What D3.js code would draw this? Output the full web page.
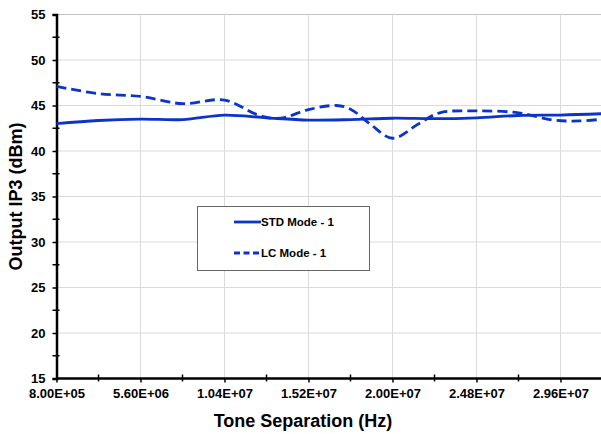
<!DOCTYPE html>
<html>
<head>
<meta charset="utf-8">
<script src="https://cdn.jsdelivr.net/npm/d3@7"></script>
<style>
  body { margin: 0; background: #fff; }
  svg { display: block; font-family: "Liberation Sans", Arial, sans-serif; }
</style>
</head>
<body>
<div id="chart"></div>
<script>
// tick values
const xTicks = [8.0e5, 5.6e6, 1.04e7, 1.52e7, 2.0e7, 2.48e7, 2.96e7];
const yTicks = [15, 20, 25, 30, 35, 40, 45, 50, 55];

// STD Mode - 1 (solid)
const stdX = [8.0e5, 3.2e6, 5.6e6, 8.0e6, 1.04e7, 1.28e7, 1.52e7, 1.76e7, 2.0e7, 2.24e7, 2.48e7, 2.72e7, 2.96e7, 3.2e7];
const stdY = [43.0, 43.35, 43.5, 43.45, 43.95, 43.65, 43.4, 43.45, 43.6, 43.55, 43.65, 43.9, 43.95, 44.1];

// LC Mode - 1 (dashed)
const lcX = [8.0e5, 3.2e6, 5.6e6, 8.0e6, 1.04e7, 1.24e7, 1.36e7, 1.52e7, 1.68e7, 1.76e7, 1.87e7, 2.0e7, 2.15e7, 2.27e7, 2.48e7, 2.72e7, 2.92e7, 3.07e7, 3.2e7];
const lcY = [47.1, 46.3, 46.0, 45.2, 45.6, 43.9, 43.6, 44.55, 45.0, 44.6, 43.0, 41.4, 43.0, 44.2, 44.4, 44.2, 43.4, 43.3, 43.5];

const seriesNames = ["STD Mode - 1", "LC Mode - 1"];

const width = 601, height = 434;
const margin = { top: 14.5, left: 56.5, bottom: 55.5 };
const blue = "#0a35c8";

const svg = d3.select("#chart").append("svg")
  .attr("width", width)
  .attr("height", height);

const x = d3.scaleLinear()
  .domain([8.0e5, 3.2e7])
  .range([margin.left, margin.left + 6.5 * 84]);

const y = d3.scaleLinear()
  .domain([15, 55])
  .range([height - margin.bottom, margin.top]);

// gridlines
svg.append("g")
  .selectAll("line.hg")
  .data(yTicks.slice(1))
  .join("line")
  .attr("x1", margin.left).attr("x2", width)
  .attr("y1", d => y(d)).attr("y2", d => y(d))
  .attr("stroke", d => d === 55 ? "#c4c4c4" : "#dadada")
  .attr("stroke-width", 1);

svg.append("g")
  .selectAll("line.vg")
  .data(xTicks.slice(1))
  .join("line")
  .attr("x1", d => x(d)).attr("x2", d => x(d))
  .attr("y1", margin.top).attr("y2", y(15))
  .attr("stroke", "#dadada")
  .attr("stroke-width", 1);

// y axis
const yAxis = svg.append("g")
  .attr("transform", `translate(${margin.left},0)`)
  .call(d3.axisLeft(y).tickValues(yTicks).tickSize(4).tickPadding(7).tickFormat(d3.format("d")));
yAxis.select(".domain").attr("stroke", "#000").attr("stroke-width", 2.5);
yAxis.selectAll(".tick line").attr("stroke-width", 1.5);
yAxis.selectAll("text")
  .attr("font-size", 13).attr("font-weight", "bold")
  .attr("font-family", "Liberation Sans, Arial, sans-serif").attr("fill", "#000");

// y minor ticks
svg.append("g")
  .selectAll("line")
  .data(yTicks.slice(0, -1).map(d => d + 2.5))
  .join("line")
  .attr("x1", margin.left - 4).attr("x2", margin.left + 3)
  .attr("y1", d => y(d)).attr("y2", d => y(d))
  .attr("stroke", "#000").attr("stroke-width", 1.5);

// x axis
const xAxis = svg.append("g")
  .attr("transform", `translate(0,${y(15)})`)
  .call(d3.axisBottom(x).tickValues(xTicks).tickSize(4).tickPadding(6)
    .tickFormat(d => d.toExponential(2).toUpperCase().replace(/E\+(\d)$/, "E+0$1")));
xAxis.select(".domain").attr("stroke", "#000").attr("stroke-width", 2.5)
  .attr("d", `M${margin.left},0H${width}`);
xAxis.selectAll(".tick line").attr("stroke-width", 1.5);
xAxis.selectAll("text")
  .attr("font-size", 13).attr("font-weight", "bold")
  .attr("font-family", "Liberation Sans, Arial, sans-serif").attr("fill", "#000");

// x minor ticks
svg.append("g")
  .selectAll("line")
  .data(xTicks.map(d => d + 2.4e6))
  .join("line")
  .attr("x1", d => x(d)).attr("x2", d => x(d))
  .attr("y1", y(15) - 4).attr("y2", y(15) + 3)
  .attr("stroke", "#000").attr("stroke-width", 1.5);

// lines
const line = d3.line()
  .x(d => x(d[0]))
  .y(d => y(d[1]))
  .curve(d3.curveCatmullRom.alpha(0.5));

const plot = svg.append("g");

plot.append("path")
  .datum(stdX.map((d, i) => [d, stdY[i]]))
  .attr("d", line)
  .attr("fill", "none")
  .attr("stroke", blue)
  .attr("stroke-width", 2.8);

plot.append("path")
  .datum(lcX.map((d, i) => [d, lcY[i]]))
  .attr("d", line)
  .attr("fill", "none")
  .attr("stroke", blue)
  .attr("stroke-width", 2.8)
  .attr("stroke-dasharray", "10,5");

// legend
const legend = svg.append("g").attr("transform", "translate(197,206)");
legend.append("rect")
  .attr("x", 0.5).attr("y", 0.5)
  .attr("width", 172).attr("height", 64)
  .attr("fill", "#fff")
  .attr("stroke", "#666")
  .attr("stroke-width", 1);

const items = legend.selectAll("g.item")
  .data(seriesNames)
  .join("g")
  .attr("class", "item")
  .attr("transform", (d, i) => `translate(0,${16 + i * 31})`);

items.append("line")
  .attr("x1", 37).attr("x2", 64)
  .attr("y1", 0).attr("y2", 0)
  .attr("stroke", blue)
  .attr("stroke-width", 2.8)
  .attr("stroke-dasharray", (d, i) => i === 1 ? "6,3.5" : null);

items.append("text")
  .attr("x", 64).attr("y", 4)
  .attr("font-size", 11.5).attr("font-weight", "bold")
  .text(d => d);

// axis titles
svg.append("text")
  .attr("transform", `translate(22,${(margin.top + y(15)) / 2}) rotate(-90)`)
  .attr("text-anchor", "middle")
  .attr("font-size", 18).attr("font-weight", "bold")
  .text("Output IP3 (dBm)");

svg.append("text")
  .attr("x", 303).attr("y", 427)
  .attr("text-anchor", "middle")
  .attr("font-size", 18).attr("font-weight", "bold")
  .text("Tone Separation (Hz)");
</script>
</body>
</html>
